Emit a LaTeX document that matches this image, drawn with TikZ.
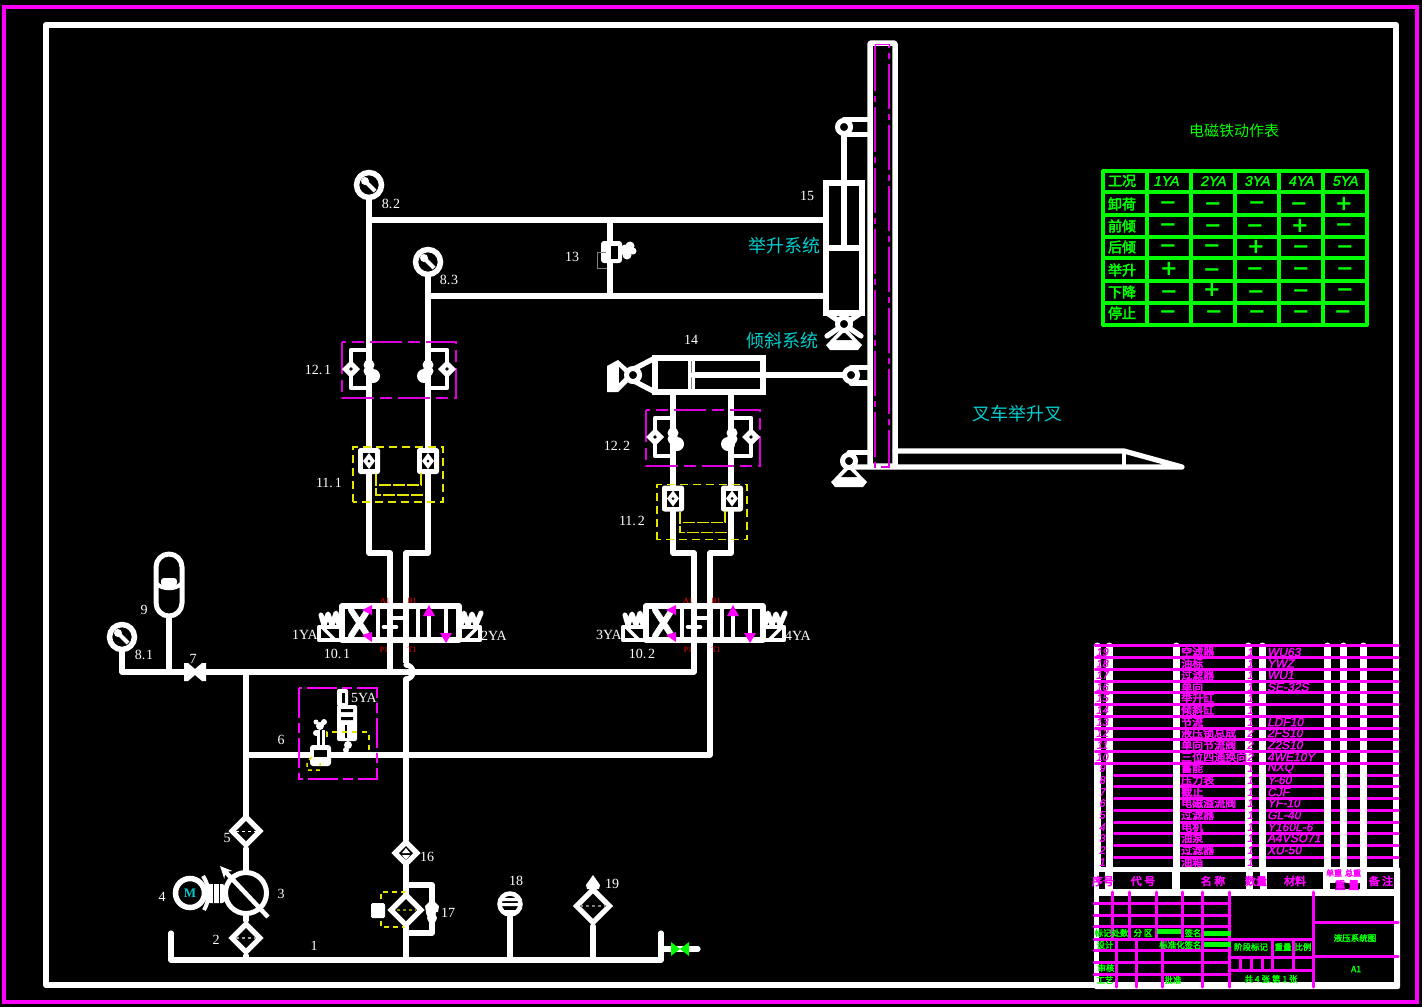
\documentclass[tikz,border=0pt]{standalone}
\usepackage{fontspec}
\setmainfont{Liberation Serif}
\newfontfamily\cjk{Noto Sans CJK SC}
\newfontfamily\cjkb[FakeBold=3]{Noto Sans CJK SC}
\newfontfamily\cjkbs[FakeBold=4]{Noto Sans CJK SC}
\newfontfamily\sansbi[FakeBold=2,FakeSlant=0.2]{Liberation Sans}
\newfontfamily\markfont{DejaVu Sans}
\usetikzlibrary{shapes.geometric,arrows.meta}
\definecolor{mag}{RGB}{255,0,255}
\definecolor{gr}{RGB}{0,255,0}
\definecolor{yl}{RGB}{230,230,0}
\definecolor{cy}{RGB}{0,205,205}
\tikzset{
 pipe/.style={draw=white,line width=5.2pt,line join=round,line cap=round},
 thinp/.style={draw=white,line width=4.6pt,line join=round,line cap=round},
 ydash/.style={draw=yl,line width=1.5pt,dash pattern=on 8pt off 5pt},
 ysolid/.style={draw=yl,line width=1.5pt},
 mdash/.style={draw=mag!85!black,line width=1.4pt,dash pattern=on 32pt off 6pt on 12pt off 6pt},
 gauge/.style={circle,draw=white,line width=5.5pt,fill=black,minimum size=25pt,inner sep=0pt},
 filt/.style={diamond,aspect=1,draw=white,line width=5.2pt,fill=black,inner sep=0pt},
 lab/.style={text=white,font=\fontsize{14}{14}\selectfont,inner sep=0pt},
 cjklab/.style={text=cy,font=\cjk\fontsize{18}{18}\selectfont,inner sep=0pt},
 redl/.style={text=red,font=\fontsize{8}{8}\selectfont,inner sep=0pt},
 tbl/.style={draw=gr,line width=3.3pt,line cap=round},
 thead/.style={text=gr,font=\cjkb\fontsize{14}{14}\selectfont,inner sep=0pt},
 theadl/.style={text=gr,font=\sansbi\fontsize{14}{14}\selectfont,inner sep=0pt},
 tmark/.style={text=gr,font=\markfont\bfseries\fontsize{21}{21}\selectfont,inner sep=0pt,anchor=base,yshift=-6.6pt},
 mline/.style={draw=mag,line width=3pt,line cap=round},
 wcol/.style={draw=white,line width=7pt,line cap=round},
 gt/.style={text=gr,font=\cjkb\fontsize{8.5}{9}\selectfont,inner sep=0pt},
 mh/.style={text=mag,font=\cjkbs\fontsize{11}{11}\selectfont,inner sep=0pt},
 mn/.style={text=mag,font=\cjkbs\fontsize{11}{11}\selectfont,inner sep=0pt,anchor=west},
 mm/.style={text=mag,font=\sansbi\fontsize{12}{12}\selectfont,inner sep=0pt,anchor=west},
 ms/.style={text=mag,font=\sansbi\fontsize{11}{11}\selectfont,inner sep=0pt},
}
\newcommand{\lb}[4]{\node[lab] (#1) at (#2,#3) {#4};}
\newcommand{\pvt}[2]{%
 \fill[white] (#1,#2+2) -- (#1+14,#2+17) -- (#1+18,#2+21) -- (#1+14,#2+26) -- (#1-14,#2+26) -- (#1-18,#2+21) -- (#1-14,#2+17) -- cycle;
 \fill[black] (#1,#2+8) -- (#1+8,#2+16) -- (#1-8,#2+16) -- cycle;
 \draw[white,line width=5pt,fill=black] (#1,#2) circle (6.5);
}
\newcommand{\spr}[3]{% spring blob: x,y,dir
 \fill[white] (#1,#2-3) circle (5.5) (#1,#2+3) circle (5.5) (#1+#3*4,#2+8) circle (7);
}
\newcommand{\chk}[2]{%
 \fill[white] (#1,#2-9) -- (#1+9,#2) -- (#1,#2+9) -- (#1-9,#2) -- cycle;
 \fill[black] (#1,#2) circle (1.8);
}
\newcommand{\hlock}[2]{\begin{scope}[shift={(#1,#2)}]
 \draw[mdash] (342,342) rectangle (456,398);
 \draw[thinp] (369,350) -- (351,350) -- (351,388) -- (369,388);
 \draw[thinp] (428,350) -- (447,350) -- (447,388) -- (428,388);
 \chk{351}{369}\chk{447}{369}
 \spr{369}{368}{1}\spr{428}{368}{-1}
\end{scope}}
\newcommand{\blk}[2]{%
 \fill[white,rounded corners=2.5pt] (#1-11,#2-13) rectangle (#1+11,#2+13);
 \fill[black] (#1-6,#2-8) rectangle (#1+6,#2+8);
 \fill[white] (#1,#2-8) -- (#1+6,#2) -- (#1,#2+8) -- (#1-6,#2) -- cycle;
 \fill[black] (#1,#2) circle (1.5);
}
\newcommand{\pilot}[2]{\begin{scope}[shift={(#1,#2)}]
 \draw[ydash] (353,502) -- (353,447) -- (443,447) -- (443,502) -- cycle;
 \blk{369}{461}\blk{428}{461}
 \draw[ysolid,dash pattern=on 12pt off 2pt] (376,474) -- (376,485) -- (421,485) -- (421,472);
 \draw[ysolid,dash pattern=on 12pt off 2pt] (376,474) -- (376,495) -- (425,495);
\end{scope}}
\newcommand{\dcv}[2]{\begin{scope}[shift={(#1,#2)}]
 \draw[pipe] (342,606) rectangle (459,640);
 \draw[thinp] (378,606) -- (378,640) (418,606) -- (418,640) (459,606) -- (459,640);
 \draw[pipe,line width=6pt] (351,610) -- (368,636) (351,636) -- (368,610);
 \draw[thinp] (390,606) -- (390,618) -- (406,618);
 \draw[thinp] (390,640) -- (390,628);
 \draw[thinp] (384,627) -- (396,627);
 \draw[thinp] (429,640) -- (429,612) (446,606) -- (446,634);
 \fill[mag] (372,605) -- (372,615) -- (362,610) -- cycle;
 \fill[mag] (372,642) -- (372,632) -- (362,635) -- cycle;
 \fill[mag] (429,605) -- (435,616) -- (423,616) -- cycle;
 \fill[mag] (446,643) -- (440,633) -- (452,633) -- cycle;
 \draw[thinp] (342,627) -- (319,627) -- (319,640) -- (342,640);
 \draw[pipe,line width=3.5pt] (322,627) -- (335,640);
 \draw[pipe,line width=5pt] (321,615) -- (324,625) -- (328,614) -- (332,625) -- (336,613) -- (339,625);
 \draw[thinp] (459,627) -- (480,627) -- (480,640) -- (459,640);
 \draw[pipe,line width=3.5pt] (478,627) -- (465,640);
 \draw[pipe,line width=5pt] (481,613) -- (476,625) -- (472,614) -- (468,625) -- (464,613) -- (461,625);
\end{scope}}
\newcommand{\prow}[5]{%
 \node[ms] (sq#2) at (1102,#1) {#2};
 \node[mn] (nm#2) at (1181,#1) {#3};
 \node[ms] (qt#2) at (1250,#1) {#4};
 \node[mm] (md#2) at (1267,#1) {#5};
}
\begin{document}
\begin{tikzpicture}[x=1pt,y=-1pt]
\useasboundingbox (0,0) rectangle (1422,1007);
\fill[black] (0,0) rectangle (1422,1007);
\draw[mag,line width=3.5pt] (4,7) rectangle (1417,1002);
\draw[white,line width=6.5pt,line join=round] (46,25) rectangle (1396,985);

%%% --- nodes of the circuit ---
\node[gauge] (g82) at (369,185) {};
\node[gauge] (g83) at (428,262) {};
\node[gauge] (g81) at (122,637) {};
\foreach \g in {g81,g82,g83}{
  \draw[white,line width=4pt] (\g.center) ++(-5,-5) -- ++(11,11);
  \fill[white] (\g.center) ++(-4,-4) circle (4);
}
\coordinate (j1) at (369,220);
\coordinate (j2) at (428,296);
\coordinate (c15t) at (826,220);
\coordinate (c15b) at (826,296);

% mast and fork
\draw[pipe,line width=5.5pt,rounded corners=1pt] (870,43) rectangle (895,466);
\draw[pipe] (895,451) -- (1124,451) -- (1182,467) -- (849,467);
\draw[pipe,line width=4pt] (1124,451) -- (1124,467);
\draw[mag!85!black,line width=1.2pt,dash pattern=on 45pt off 5pt on 6pt off 5pt] (875,46) -- (875,467) -- (889,467) -- (889,46);
\draw[mag,line width=1pt] (875,44) -- (889,44) -- (889,47);
\draw[mag,line width=1pt] (875,44) -- (875,47);
% clevises
\draw[pipe] (844,119.5) -- (870,119.5) (844,134.5) -- (870,134.5);
\draw[pipe] (851,367.5) -- (870,367.5) (851,383) -- (870,383);
\draw[pipe] (849,452.5) -- (870,452.5);

% cylinder 15
\node[draw=white,line width=5.2pt,minimum width=36pt,minimum height=130pt,inner sep=0pt,fill=black] (c15) at (844,248) {};
\draw[pipe] (826,248) -- (862,248);
\draw[pipe] (844,127) -- (844,248);
\draw[white,line width=5pt,fill=black] (844,127) circle (6.5);
\draw[white,line width=5pt,fill=black] (851,375) circle (6.5);
\draw[pipe] (827,313) -- (861,336) (861,313) -- (827,336);
\pvt{844}{324}
\pvt{849}{461}

% cylinder 14
\node[draw=white,line width=5.2pt,minimum width=108pt,minimum height=34pt,inner sep=0pt,fill=black] (c14) at (709,375) {};
\draw[white,line width=7pt] (691,358) -- (691,392);
\draw[gray,line width=.8pt] (691,361) -- (691,389);
\draw[pipe] (693,375) -- (844,375);
\draw[pipe] (655,358) -- (628,372) (655,392) -- (628,378);
\fill[white] (635,375) -- (618,360) -- (607,366) -- (607,392) -- (618,392) -- cycle;
\fill[black] (627,375) -- (619,367) -- (619,383) -- cycle;
\draw[white,line width=5pt,fill=black] (633,375) circle (6.5);

% left pipe bundle
\draw[pipe] (g82.south) -- (369,553) -- (390,553) -- (390,672);
\draw[pipe] (g83.south) -- (428,553) -- (406,553) -- (406,665);
\draw[pipe] (j1) -- (c15t);
\draw[pipe] (j2) -- (c15b);
\draw[pipe] (610,220) -- (610,296);
% right pipe bundle
\draw[pipe] (673,394) -- (673,553) -- (694,553) -- (694,672);
\draw[pipe] (731,394) -- (731,553) -- (710,553) -- (710,755);

% valves 13
\fill[white,rounded corners=3pt] (601,241) rectangle (622,263);
\fill[black] (611,246) rectangle (618,259);
\fill[white] (625,250) circle (5.5) (630,246) circle (4.5) (627,255) circle (4.5) (633,251) circle (3.5);
\draw[gray,line width=1pt] (606,252) -- (597,252) -- (597,268) -- (607,268);

\hlock{0}{0}
\hlock{304}{68}
\pilot{0}{0}
\pilot{304}{37.5}
\dcv{0}{0}
\dcv{304}{0}

% main pressure line
\draw[pipe] (g81.south) -- (122,672) -- (694,672);
\draw[pipe] (246,672) -- (246,816);
\draw[pipe] (246,755) -- (710,755);
\fill[black] (403,663) rectangle (409,669) (403,675) rectangle (409,681);
\draw[pipe] (406,665) arc (-90:90:7);
\draw[pipe] (406,679) -- (406,840);

% accumulator 9
\draw[pipe,line width=5pt] (156,567) arc (180:360:13) -- (182,603) arc (0:180:13) -- cycle;
\draw[white,line width=4pt] (156,583) .. controls (162,590) and (176,590) .. (182,583);
\fill[white,rounded corners=3pt] (161,578) rectangle (177,586);
\coordinate (acb) at (169,618);
\draw[pipe] (acb) -- (169,672);

% valve 7
\fill[white] (184,663) -- (188,663) -- (195,669) -- (202,663) -- (206,663) -- (206,681) -- (202,681) -- (195,675) -- (188,681) -- (184,681) -- cycle;

% relief valve 6
\draw[mag,line width=1.5pt,dash pattern=on 30pt off 5pt on 10pt off 5pt] (299,688) rectangle (377,779);
\fill[white,rounded corners=3pt] (310,745) rectangle (331,766);
\fill[black] (314,750) rectangle (327,757);
\draw[white,line width=3pt] (318,745) -- (318,730) (323,745) -- (323,730);
\fill[white] (320,726) circle (4) (316,733) circle (3) (324,722) circle (3) (316,722) circle (2.5);
\fill[white,rounded corners=2pt] (337,689) rectangle (348,706);
\fill[white,rounded corners=2pt] (337,705) rectangle (357,741);
\fill[black] (342,693) rectangle (345,703);
\fill[black] (341,709) rectangle (353,712) (341,717) rectangle (353,720);
\fill[black] (345,725) rectangle (346.5,738);
\fill[white] (348,745) circle (4) (346,750) circle (3);
\draw[ydash,dash pattern=on 5pt off 5pt] (327,737) -- (327,732) -- (369,732) -- (369,755);
\draw[ydash,dash pattern=on 4pt off 4pt] (312,757) -- (307,762) -- (307,770) -- (320,770) -- (320,763);

% filters, pump
\node[filt,minimum size=30pt] (f5) at (246,831) {};
\draw[white,line width=1pt,dashed] (236,831) -- (256,831);
\draw[pipe] (f5.south) -- (246,872);
\node[circle,draw=white,line width=5pt,fill=black,minimum size=41pt,inner sep=0pt] (p3) at (246,893) {};
\draw[white,line width=4.5pt,-{Stealth[length=12pt,width=11pt]}] (268,917) -- (220,866);
\node[circle,draw=white,line width=5.5pt,fill=black,minimum size=29pt,inner sep=0pt,text=cy,font=\bfseries\fontsize{13}{13}\selectfont] (m4) at (190,893) {M};
\draw[white,line width=4pt] (203,876) .. controls (210,886) and (210,900) .. (204,910);
\fill[white,rounded corners=3pt] (207,884) rectangle (225,903);
\draw[black,line width=.8pt] (213,884) -- (213,903) (219,884) -- (219,903);
\node[filt,minimum size=30pt] (f2) at (246,938) {};
\draw[gray!70,line width=1.6pt,dashed] (236,938) -- (256,938);
\draw[pipe] (p3.south) -- (f2.north);
\coordinate (t0) at (171,960);
\coordinate (t1) at (661,960);
\draw[pipe] (171,933) -- (t0) -- (t1) -- (661,933);
\draw[pipe] (f2.south) -- (246,960);
% 16, 17
\node[filt,minimum size=24pt] (f16) at (406,853) {};
\fill[white] (406,848) -- (410,853) -- (402,853) -- cycle;
\fill[white] (402,855) -- (410,855) -- (406,860) -- cycle;
\draw[pipe] (406,865) -- (406,960);
\draw[pipe] (406,885) -- (432,885) -- (432,933) -- (406,933);
\draw[ydash,dash pattern=on 5pt off 4pt] (406,892) -- (381,892) -- (381,927) -- (406,927);
\fill[white,rounded corners=1.5pt] (371,903) rectangle (385,918);
\node[filt,minimum size=32pt] (f17) at (406,910) {};
\draw[yl!60!black,line width=1.6pt,dashed] (397,910) -- (416,910);
\fill[white] (432,899) -- (439,906) -- (438,912) -- (426,912) -- (425,906) -- cycle;
\fill[white] (431,913) circle (5) (432,918) circle (5);
% 18
\node[circle,draw=white,line width=4.5pt,fill=black,minimum size=21pt,inner sep=0pt] (s18) at (510,904) {};
\fill[white] (500,898) rectangle (520,901) (499,903) rectangle (521,906) (502,910) rectangle (518,912);
\draw[pipe] (s18.south) -- (510,960);
% 19
\node[filt,minimum size=35pt] (f19) at (593,906) {};
\draw[gray,line width=1.5pt,dashed] (580,906) -- (606,906);
\draw[pipe] (f19.south) -- (593,960);
\fill[white] (593,875) -- (600,885) -- (599,889) -- (587,889) -- (586,885) -- cycle;
% drain valve
\coordinate (d0) at (661,949);
\coordinate (d1) at (698,949);
\draw[pipe] (d0) -- (d1);
\fill[gr] (671,942) -- (680,949) -- (671,956) -- cycle (689,942) -- (680,949) -- (689,956) -- cycle;

%%% --- labels ---
\lb{l82}{391}{204}{8.\kern1pt 2}
\lb{l83}{449}{280}{8.\kern1pt 3}
\lb{l13}{572}{257}{13}
\lb{l15}{807}{196}{15}
\lb{l14}{691}{340}{14}
\lb{l121}{318}{370}{12.\kern2pt 1}
\lb{l122}{617}{446}{12.\kern2pt 2}
\lb{l111}{329}{483}{11.\kern2pt 1}
\lb{l112}{632}{521}{11.\kern2pt 2}
\lb{l101}{337}{654}{10.\kern2pt 1}
\lb{l102}{642}{654}{10.\kern2pt 2}
\lb{l1ya}{305}{635}{1YA}
\lb{l2ya}{494}{636}{2YA}
\lb{l3ya}{609}{635}{3YA}
\lb{l4ya}{798}{636}{4YA}
\lb{l9}{144}{610}{9}
\lb{l81}{144}{655}{8.\kern1pt 1}
\lb{l7}{193}{659}{7}
\lb{l5ya}{364}{698}{5YA}
\lb{l6}{281}{740}{6}
\lb{l5}{227}{838}{5}
\lb{l16}{427}{857}{16}
\lb{l17}{448}{913}{17}
\lb{l18}{516}{881}{18}
\lb{l19}{612}{884}{19}
\lb{l4}{162}{897}{4}
\lb{l3}{281}{894}{3}
\lb{l2}{216}{940}{2}
\lb{l1}{314}{946}{1}
\node[redl] (a1) at (385,601) {A1};
\node[redl] (b1) at (412,601) {B1};
\node[redl] (p1) at (384,650) {P1};
\node[redl] (t1l) at (412,650) {T1};
\node[redl] (a2) at (688,601) {A1};
\node[redl] (b2) at (716,601) {B1};
\node[redl] (p2) at (688,650) {P1};
\node[redl] (t2l) at (716,650) {T1};
\node[cjklab] (sysa) at (784,246) {举升系统};
\node[cjklab] (sysb) at (782,341) {倾斜系统};
\node[cjklab] (sysc) at (1017,414) {叉车举升叉};

%%% --- solenoid table ---
\node[text=gr,font=\cjk\fontsize{15}{15}\selectfont,inner sep=0pt] (ttl) at (1234,131) {电磁铁动作表};
\foreach \x in {1103,1147,1191,1235,1279,1323,1367}{\draw[tbl] (\x,171) -- (\x,325);}
\foreach \y in {171,192,215,237,258,281,303,325}{\draw[tbl] (1103,\y) -- (1367,\y);}
\node[thead] (h0) at (1122,181) {工况};
\node[theadl] (h1) at (1166,181) {1YA};
\node[theadl] (h2) at (1213,181) {2YA};
\node[theadl] (h3) at (1257,181) {3YA};
\node[theadl] (h4) at (1301,181) {4YA};
\node[theadl] (h5) at (1345,181) {5YA};
\node[thead] (r1) at (1122,204) {卸荷};
\node[thead] (r2) at (1122,226) {前倾};
\node[thead] (r3) at (1122,247) {后倾};
\node[thead] (r4) at (1122,270) {举升};
\node[thead] (r5) at (1122,292) {下降};
\node[thead] (r6) at (1122,313) {停止};
\foreach \n/\x/\y/\s in {a/1168/203/−,b/1213/204/−,c/1257/203/−,d/1299/204/−,e/1344/204/+,
 f/1168/225/−,g/1213/226/−,h/1255/226/−,i/1300/226/+,j/1344/225/−,
 k/1168/246/−,l/1212/246/−,m/1256/247/+,n/1301/247/−,o/1345/247/−,
 p/1169/269/+,q/1212/270/−,r/1255/269/−,s/1301/269/−,t/1345/269/−,
 u/1169/292/−,v/1212/290/+,w/1256/292/−,x/1301/291/−,y/1345/290/−,
 z/1168/312/−,aa/1214/312/−,ab/1257/312/−,ac/1301/312/−,ad/1343/312/−}
 {\node[tmark] (mk\n) at (\x,\y) {\s};}

%%% --- parts list ---
\foreach \y in {775,786.7,798.3,810,822,833.7,845.3,857}{\draw[mline] (1114,\y) -- (1398,\y);}
\foreach \x in {1097,1109,1176,1248,1262,1327,1343,1363}{\draw[wcol] (\x,646) -- (\x,870);}
\foreach \y in {645.7,657.3,669.3,681,692.7,704.3,716.3,728,739.7,751.3,763}{\draw[mline] (1095,\y) -- (1398,\y);}
\fill[white,rounded corners=2pt] (1094,867) rectangle (1400,989);
\prow{652}{19}{空滤器}{1}{WU63}
\prow{663.5}{18}{油标}{1}{YWZ}
\prow{675}{17}{过滤器}{1}{WU1}
\prow{687}{16}{单向}{1}{SE-32S}
\prow{698}{15}{举升缸}{1}{}
\prow{710}{14}{倾斜缸}{1}{}
\prow{722}{13}{节流}{1}{LDF10}
\prow{733}{12}{液压锁总成}{2}{2FS10}
\prow{745}{11}{单向节流阀}{2}{Z2S10}
\prow{757}{10}{三位四通换向}{2}{4WE10Y}
\prow{768}{9}{蓄能}{1}{NXQ}
\prow{780}{8}{压力表}{1}{Y-60}
\prow{792}{7}{截止}{1}{CJF}
\prow{803}{6}{电磁溢流阀}{1}{YF-10}
\prow{815}{5}{过滤器}{1}{GL-40}
\prow{827}{4}{电机}{1}{Y160L-6}
\prow{838}{3}{油泵}{1}{A4VSO71}
\prow{850}{2}{过滤器}{1}{XU-50}
\prow{862}{1}{油箱}{1}{}

%%% --- title block ---
\fill[black] (1113,872) rectangle (1172,889);
\fill[black] (1180,872) rectangle (1246,889);
\fill[black] (1267,872) rectangle (1323,889);
\fill[black] (1367,872) rectangle (1394,889);
\fill[black] (1099,872) rectangle (1105,889);
\fill[black] (1253,872) rectangle (1260,889);
\fill[black] (1330,883) rectangle (1360,889);
\fill[black] (1099,896) rectangle (1394,982);
\node[mh] (tt1) at (1103,881) {序号};
\node[mh] (tt2) at (1143,881) {代 号};
\node[mh] (tt3) at (1213,881) {名 称};
\node[mh] (tt4) at (1256,881) {数量};
\node[mh] (tt5) at (1295,881) {材料};
\node[mh,font=\cjkbs\fontsize{8}{8}\selectfont] (tt6) at (1334,873) {单重};
\node[mh,font=\cjkbs\fontsize{8}{8}\selectfont] (tt7) at (1353,873) {总重};
\node[mh] (tt8) at (1347,885) {重 量};
\node[mh] (tt9) at (1381,881) {备 注};
\foreach \y in {903.3,915,926.7,939,950.7,962.3,974}{\draw[mline] (1094,\y) -- (1230,\y);}
\foreach \x in {1112,1129,1156,1182,1202}{\draw[mline] (\x,892) -- (\x,939);}
\foreach \x in {1116,1136,1162,1202}{\draw[mline] (\x,939) -- (\x,987);}
\draw[mline] (1229,892) -- (1229,987);
\draw[mline] (1313,892) -- (1313,987);
\draw[mline] (1229,939) -- (1313,939) (1229,957) -- (1313,957) (1229,970) -- (1313,970);
\draw[mline] (1313,922) -- (1398,922) (1313,956) -- (1398,956);
\foreach \x in {1272,1293}{\draw[mline] (\x,939) -- (\x,970);}
\foreach \x in {1240,1251,1262}{\draw[mline] (\x,957) -- (\x,970);}
\fill[gr] (1157,929) rectangle (1181,934);
\fill[gr] (1204,931) rectangle (1231,936);
\fill[gr] (1204,942) rectangle (1231,947);
\node[gt] (b1a) at (1103,933) {标记};
\node[gt] (b1b) at (1120,933) {处数};
\node[gt] (b1c) at (1143,933) {分 区};
\node[gt] (b1d) at (1193,933) {签名};
\node[gt] (b2a) at (1105,945) {设计};
\node[gt] (b2b) at (1172,945) {标准化};
\node[gt] (b2c) at (1193,945) {签名};
\node[gt] (b2d) at (1251,947) {阶段标记};
\node[gt] (b2e) at (1283,947) {重量};
\node[gt] (b2f) at (1303,947) {比例};
\node[gt] (b3a) at (1106,968) {审核};
\node[gt] (b4a) at (1105,980) {工艺};
\node[gt] (b4b) at (1173,980) {批准};
\node[gt] (b4c) at (1271,979) {共 4 张 第 1 张};
\node[gt] (b5) at (1355,938) {液压系统图};
\node[gt] (b6) at (1356,969) {A1};
\end{tikzpicture}
\end{document}
